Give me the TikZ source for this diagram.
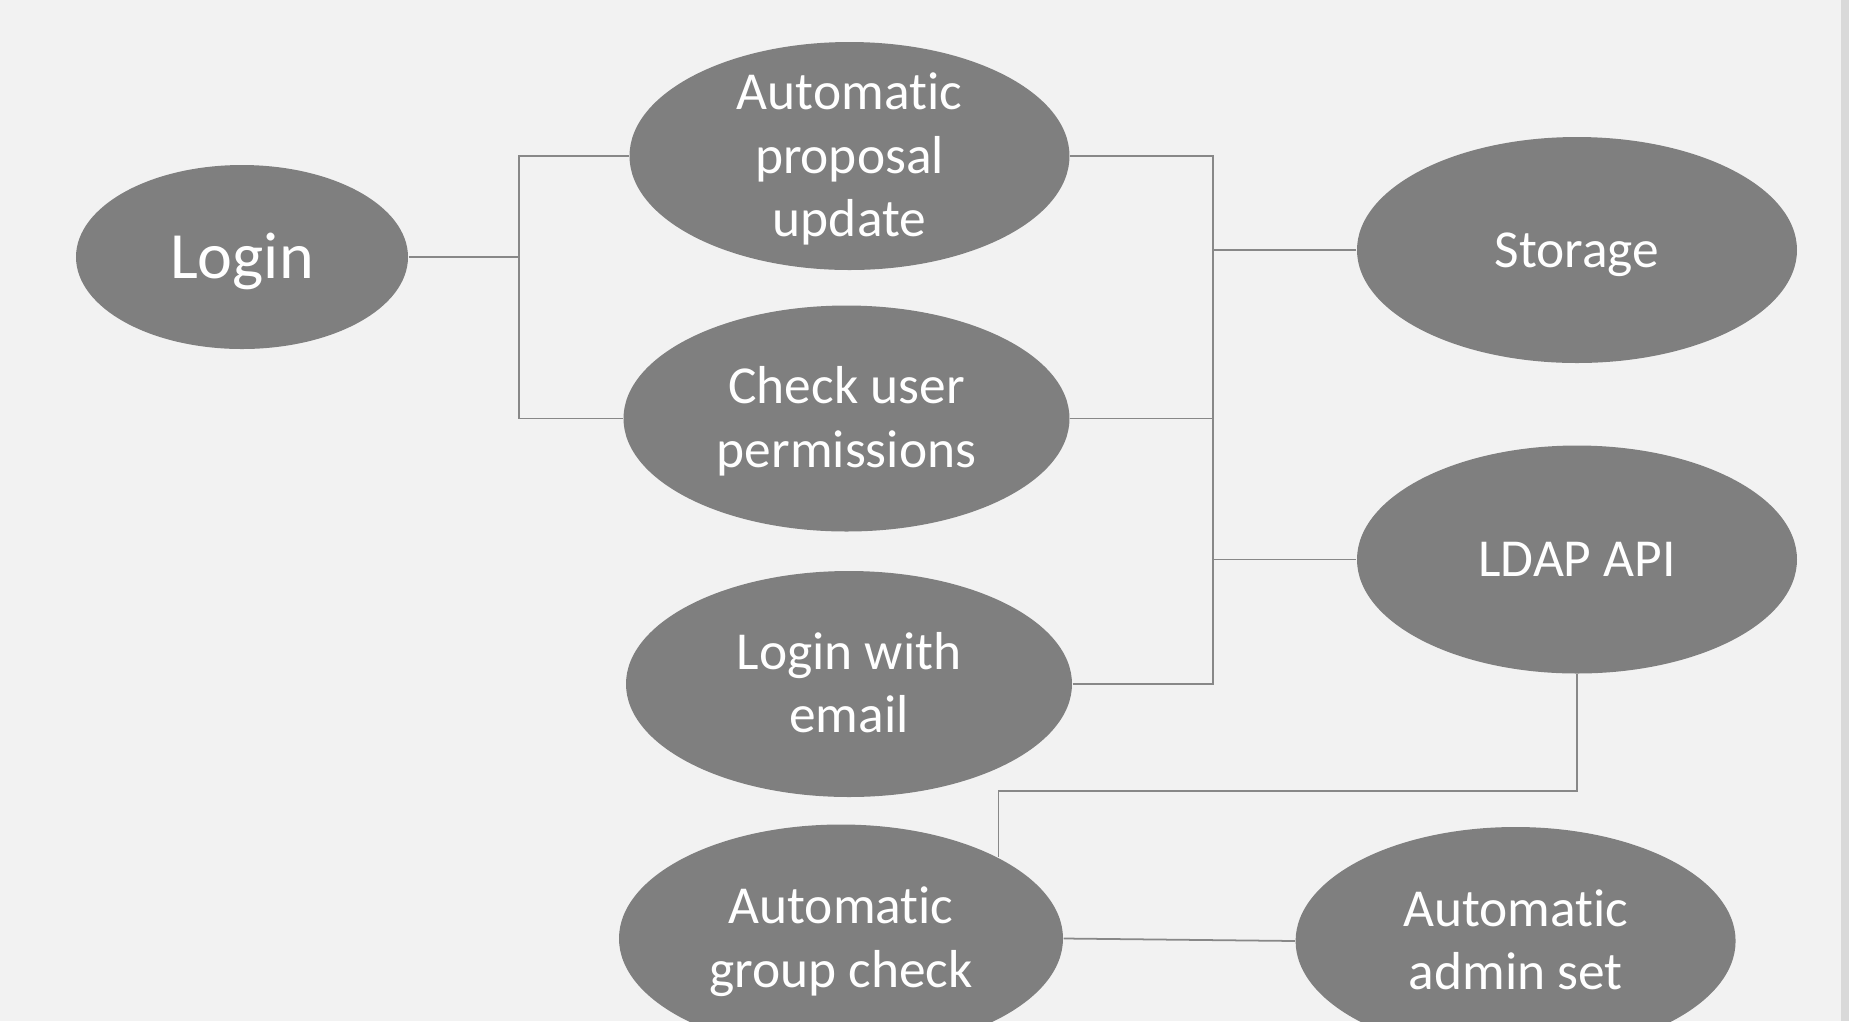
\documentclass[tikz,border=0pt]{standalone}
\usepackage{fontspec}
\setmainfont{Carlito}[Ligatures=NoCommon]
\usepackage{tikz}
\usetikzlibrary{shapes}
\definecolor{casegray}{RGB}{127,127,127}
\definecolor{linegray}{RGB}{136,136,136}
\definecolor{pagegray}{RGB}{242,242,242}
\definecolor{edgegray}{RGB}{217,217,217}
\tikzset{usecase/.style={ellipse,fill=casegray,text=white,inner xsep=0pt,inner ysep=-5mm,
    align=center,minimum width=4.4cm,minimum height=2.28cm,
    font=\fontsize{15.2pt}{18pt}\selectfont},
  link/.style={draw=linegray,line width=0.5pt}}
\newcommand{\casenode}{\node[usecase]}
% same height and depth on every line, so the caps sit in the middle
\newcommand{\cln}{\rule[-0.263em]{0pt}{1.166em}}

\begin{document}
\begin{tikzpicture}
        \clip (0,0) rectangle (18.49,-10.21);
        \fill[pagegray] (0,0) rectangle (18.49,-10.21);
        \fill[edgegray] (18.41,0) rectangle (18.49,-10.21);
        % use cases
        \casenode[minimum width=3.32cm,minimum height=1.84cm,font=\fontsize{18.8pt}{22pt}\selectfont] (login) at (2.42,-2.57) {\cln Login};
        \casenode (prop) at (8.495,-1.56) {\cln Automatic\\\cln proposal\\\cln update};
        \casenode[minimum width=4.46cm,minimum height=2.26cm] (check) at (8.465,-4.185) {\cln Check user\\\cln permissions};
        \casenode[minimum width=4.46cm,minimum height=2.26cm] (email) at (8.49,-6.84) {\cln Login with\\\cln email};
        \casenode[minimum width=4.44cm] (group) at (8.41,-9.385) {\cln Automatic\\\cln group check};
        \casenode[minimum height=2.26cm] (storage) at (15.77,-2.50) {\cln Storage};
        \casenode (ldap) at (15.77,-5.595) {\cln LDAP API};
        \casenode (admin) at (15.156,-9.41) {\cln Automatic\\\cln admin set};
        % links
        \coordinate (lbus) at (5.19,-2.57);
        \coordinate (rbus) at (12.13,-5.595);
        \draw[link] (login) -- (lbus) |- (prop.west);
        \draw[link] (lbus) |- (check.west);
        \draw[link] (prop.east) -| (rbus) -- (ldap.west);
        \draw[link] (check.east) -- (check.east -| rbus);
        \draw[link] (storage.west) -- (storage.west -| rbus);
        \draw[link] (email.east) -| (rbus);
        \draw[link] (ldap.south) -- ++(0,-1.165) -| (group.north east);
        \draw[link] (group.east) -- (admin.west);
      \end{tikzpicture}
\end{document}
